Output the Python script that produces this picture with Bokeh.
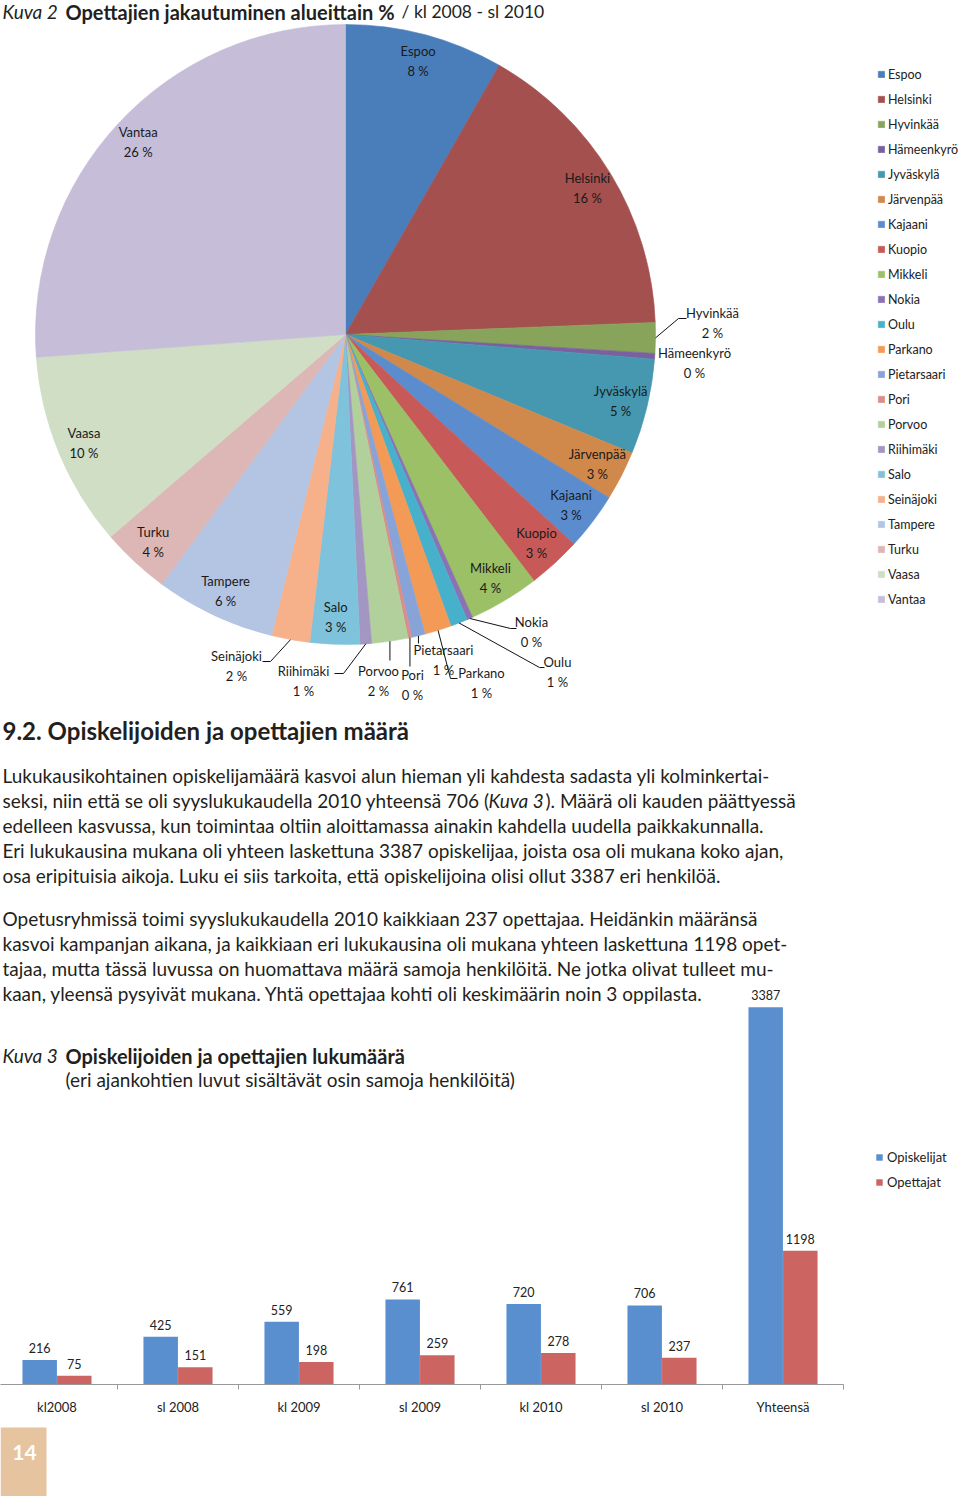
import numpy as np
from bokeh.plotting import figure
from bokeh.models import Range1d, ColumnDataSource, Legend, LegendItem, LinearAxis, FixedTicker
from bokeh.layouts import column
from bokeh.embed import file_html
from bokeh.resources import INLINE
from bokeh.core.properties import value
from bokeh.transform import dodge

# ---------------- data ----------------
cities = ["Espoo", "Helsinki", "Hyvinkää", "Hämeenkyrö", "Jyväskylä", "Järvenpää",
          "Kajaani", "Kuopio", "Mikkeli", "Nokia", "Oulu", "Parkano", "Pietarsaari",
          "Pori", "Porvoo", "Riihimäki", "Salo", "Seinäjoki", "Tampere", "Turku",
          "Vaasa", "Vantaa"]
shares = [8.3, 16.2, 1.6, 0.3, 5.0, 2.6, 3.0, 2.8, 3.7, 0.3, 0.9, 1.4, 0.7,
          0.2, 1.9, 0.6, 2.6, 2.0, 6.3, 3.6, 10.2, 26.3]
city_colors = ["#4A7EBB", "#A4504F", "#88A45B", "#7B60A0", "#4598B0", "#D1884B",
               "#5B8DCE", "#C75A58", "#9BC066", "#8A72B3", "#47B1CB", "#F39A57",
               "#87A3D8", "#D98E8B", "#B2D09C", "#A396C2", "#7FC2DB", "#F6B08A",
               "#B3C5E3", "#DDB6B6", "#CFDEC5", "#C6BDD8"]

periods = ["kl2008", "sl 2008", "kl 2009", "sl 2009", "kl 2010", "sl 2010", "Yhteensä"]
students = [216, 425, 559, 761, 720, 706, 3387]
teachers = [75, 151, 198, 259, 278, 237, 1198]
series_names = ["Opiskelijat", "Opettajat"]
series_colors = ["#5A8FCF", "#CC6461"]

FONT = value("Lato")
TXT = "#231F20"
W = 960

# ---------------- figure 1 : pie ----------------
CX, CY, R = 345, 334, 310
R_LAB = 283
H1 = 712


def dx(X):
    return X - CX


def dy(Y):
    return CY - Y


frac = np.array(shares) / sum(shares)
cum_end = np.cumsum(frac)
cum_start = cum_end - frac
theta_mid = 2 * np.pi * (cum_start + frac / 2)
pct = [int(round(f * 100)) for f in frac]

p1 = figure(width=W, height=H1, x_range=Range1d(dx(0), dx(W)),
            y_range=Range1d(dy(H1), dy(0)), output_backend="svg",
            toolbar_location=None, min_border=0, x_axis_location=None,
            y_axis_location=None, outline_line_color=None)
p1.grid.visible = False

pie_src = ColumnDataSource(dict(name=cities, color=city_colors,
                                start=np.pi / 2 - 2 * np.pi * cum_end,
                                end=np.pi / 2 - 2 * np.pi * cum_start))
wr = p1.wedge(x=0, y=0, radius=R, start_angle="start", end_angle="end",
              direction="anticlock", fill_color="color", line_color="color",
              line_width=0.6, source=pie_src)

# outside labels: label centre (page px) and leader path (page px); "v" = vertical drop
outside = {
    "Hyvinkää": ((712, 322), [(678, 318), (686, 318)]),
    "Hämeenkyrö": ((694, 362), None),
    "Nokia": ((531, 631), [(510, 628), (516, 628)]),
    "Oulu": ((557, 671), [(539, 667), (544, 667)]),
    "Parkano": ((481, 682), [(450, 678), (457, 678)]),
    "Pietarsaari": ((443, 659), ("v", 643)),
    "Pori": ((412, 684), ("v", 666)),
    "Porvoo": ((378, 680), ("v", 660)),
    "Riihimäki": ((303, 680), [(343, 673), (334, 673)]),
    "Seinäjoki": ((236, 665), [(270, 661), (262, 661)]),
}

lx, ly, lt = [], [], []
lead_xs, lead_ys = [], []
for i, c in enumerate(cities):
    lab = f"{c}\n{pct[i]} %"
    ex, ey = R * np.sin(theta_mid[i]), R * np.cos(theta_mid[i])
    if c in outside:
        (LX, LY), path = outside[c]
        lx.append(dx(LX))
        ly.append(dy(LY))
        lt.append(lab)
        if path is None:
            continue
        if path[0] == "v":
            xs, ys = [ex, ex], [ey, dy(path[1])]
        else:
            xs = [ex] + [dx(px) for px, _ in path]
            ys = [ey] + [dy(py) for _, py in path]
        lead_xs.append(xs)
        lead_ys.append(ys)
    else:
        lx.append(R_LAB * np.sin(theta_mid[i]))
        ly.append(R_LAB * np.cos(theta_mid[i]))
        lt.append(lab)

p1.multi_line(xs=lead_xs, ys=lead_ys, line_color="#111111", line_width=1)
p1.text(x=lx, y=ly, text=lt, text_align="center", text_baseline="middle",
        text_font=FONT, text_font_size="13px", text_color="#1A1A1A",
        text_line_height=1.25)

# title
p1.text(x=[dx(2)], y=[dy(11)], text=["Kuva 2"], text_font=FONT, text_font_size="19px",
        text_font_style="italic", text_baseline="middle", text_color=TXT)
p1.text(x=[dx(65)], y=[dy(11)], text=["Opettajien jakautuminen alueittain %"], text_font=FONT,
        text_font_size="20px", text_font_style="bold", text_baseline="middle", text_color=TXT)
p1.text(x=[dx(401)], y=[dy(11)], text=["/ kl 2008 - sl 2010"], text_font=FONT,
        text_font_size="17.5px", text_baseline="middle", text_color=TXT)

leg1 = Legend(items=[LegendItem(label=c, renderers=[wr], index=i) for i, c in enumerate(cities)],
              location=(877, 104), orientation="vertical", glyph_width=8, glyph_height=8,
              label_standoff=3, spacing=7, label_height=18, padding=10, margin=0,
              border_line_color=None, background_fill_alpha=0,
              label_text_font="Lato", label_text_font_size="12.5px", label_text_color="#222222")
p1.add_layout(leg1)

# ---------------- figure 2 : text + bars ----------------
CAT_W, X_CAT0 = 121, -4
Y_TOP2, Y_AXIS, PXU = H1, 1384, 0.1112
AX_H = 36


def fx(X):
    return (X - X_CAT0) / CAT_W


def fy(Y):
    return (Y_AXIS - 0.5 - Y) / PXU


p2 = figure(width=W, height=Y_AXIS - Y_TOP2 + AX_H, x_range=Range1d(fx(0), fx(W)),
            y_range=Range1d(fy(Y_AXIS), fy(Y_TOP2)), output_backend="svg",
            toolbar_location=None, min_border=0, min_border_bottom=AX_H,
            x_axis_location=None, y_axis_location=None, outline_line_color=None)
p2.grid.visible = False

src = ColumnDataSource(dict(xc=[i + 0.5 for i in range(len(periods))],
                            students=students, teachers=teachers,
                            s_lab=[str(v) for v in students], t_lab=[str(v) for v in teachers]))
OFF, BW = 0.143, 0.285
vb1 = p2.vbar(x=dodge("xc", -OFF), top="students", width=BW, bottom=0,
              fill_color=series_colors[0], line_color=None, source=src)
vb2 = p2.vbar(x=dodge("xc", OFF), top="teachers", width=BW, bottom=0,
              fill_color=series_colors[1], line_color=None, source=src)
for col, ycol, off in (("s_lab", "students", -OFF), ("t_lab", "teachers", OFF)):
    p2.text(x=dodge("xc", off), y=ycol, text=col, source=src, text_align="center",
            text_baseline="bottom", y_offset=-7, text_font=FONT, text_font_size="12.5px",
            text_color="#222222")

xa = LinearAxis(ticker=FixedTicker(ticks=[i + 0.5 for i in range(len(periods))],
                                   minor_ticks=list(range(len(periods) + 1))),
                major_label_overrides={i + 0.5: p for i, p in enumerate(periods)},
                bounds=(0, len(periods)), axis_line_color="#999999",
                major_tick_line_color=None, major_tick_out=5, major_tick_in=0,
                minor_tick_line_color="#999999", minor_tick_out=5, minor_tick_in=0,
                major_label_standoff=9, major_label_text_font="Lato",
                major_label_text_font_size="13px", major_label_text_color="#222222")
p2.add_layout(xa, "below")

leg2 = Legend(items=[LegendItem(label=series_names[0], renderers=[vb1]),
                     LegendItem(label=series_names[1], renderers=[vb2])],
              location=(875, 193), orientation="vertical", glyph_width=8, glyph_height=8,
              label_standoff=4, spacing=7, label_height=18, padding=10, margin=0,
              border_line_color=None, background_fill_alpha=0,
              label_text_font="Lato", label_text_font_size="13px", label_text_color="#222222")
p2.add_layout(leg2)

# heading and body text
p2.text(x=[fx(2)], y=[fy(730)], text=["9.2. Opiskelijoiden ja opettajien määrä"],
        text_font=FONT, text_font_size="24px", text_font_style="bold",
        text_baseline="middle", text_color=TXT)

BODY = "19px"
para1 = ["Lukukausikohtainen opiskelijamäärä kasvoi alun hieman yli kahdesta sadasta yli kolminkertai-",
         None,
         "edelleen kasvussa, kun toimintaa oltiin aloittamassa ainakin kahdella uudella paikkakunnalla.",
         "Eri lukukausina mukana oli yhteen laskettuna 3387 opiskelijaa, joista osa oli mukana koko ajan,",
         "osa eripituisia aikoja. Luku ei siis tarkoita, että opiskelijoina olisi ollut 3387 eri henkilöä."]
para1_y = [775, 800, 825, 850, 875]
para2 = ["Opetusryhmissä toimi syyslukukaudella 2010 kaikkiaan 237 opettajaa. Heidänkin määränsä",
         "kasvoi kampanjan aikana, ja kaikkiaan eri lukukausina oli mukana yhteen laskettuna 1198 opet-",
         "tajaa, mutta tässä luvussa on huomattava määrä samoja henkilöitä. Ne jotka olivat tulleet mu-",
         "kaan, yleensä pysyivät mukana. Yhtä opettajaa kohti oli keskimäärin noin 3 oppilasta."]
para2_y = [918, 943, 968, 993]

bx, by, bt = [], [], []
for t, Y in zip(para1 + para2, para1_y + para2_y):
    if t is None:
        continue
    bx.append(fx(2))
    by.append(fy(Y))
    bt.append(t)
p2.text(x=bx, y=by, text=bt, text_font=FONT, text_font_size=BODY,
        text_baseline="middle", text_color=TXT)
# line with italic reference
p2.text(x=[fx(2)], y=[fy(800)], text=["seksi, niin että se oli syyslukukaudella 2010 yhteensä 706 ("],
        text_font=FONT, text_font_size=BODY, text_baseline="middle", text_color=TXT)
p2.text(x=[fx(488)], y=[fy(800)], text=["Kuva 3"], text_font=FONT, text_font_size=BODY,
        text_font_style="italic", text_baseline="middle", text_color=TXT)
p2.text(x=[fx(545)], y=[fy(800)], text=["). Määrä oli kauden päättyessä"], text_font=FONT,
        text_font_size=BODY, text_baseline="middle", text_color=TXT)

# figure 3 title
p2.text(x=[fx(2)], y=[fy(1055)], text=["Kuva 3"], text_font=FONT, text_font_size="19px",
        text_font_style="italic", text_baseline="middle", text_color=TXT)
p2.text(x=[fx(65)], y=[fy(1055)], text=["Opiskelijoiden ja opettajien lukumäärä"], text_font=FONT,
        text_font_size="20px", text_font_style="bold", text_baseline="middle", text_color=TXT)
p2.text(x=[fx(65)], y=[fy(1079)], text=["(eri ajankohtien luvut sisältävät osin samoja henkilöitä)"],
        text_font=FONT, text_font_size="19px", text_baseline="middle", text_color=TXT)

# ---------------- figure 3 : page number ----------------
Y_TOP3 = Y_AXIS + AX_H
H3 = 1496 - Y_TOP3
p3 = figure(width=W, height=H3, x_range=Range1d(0, W), y_range=Range1d(1496, Y_TOP3),
            output_backend="svg", toolbar_location=None, min_border=0,
            x_axis_location=None, y_axis_location=None, outline_line_color=None)
p3.grid.visible = False
p3.quad(left=[0], right=[46], top=[1427], bottom=[1500], fill_color="#E6C49F", line_color=None)
p3.text(x=[24], y=[1452], text=["14"], text_align="center", text_baseline="middle",
        text_font=FONT, text_font_size="21px", text_font_style="bold", text_color="#FFFFFF")

page = column(p1, p2, p3, spacing=0)
open("out.html", "w").write(file_html(page, INLINE))
